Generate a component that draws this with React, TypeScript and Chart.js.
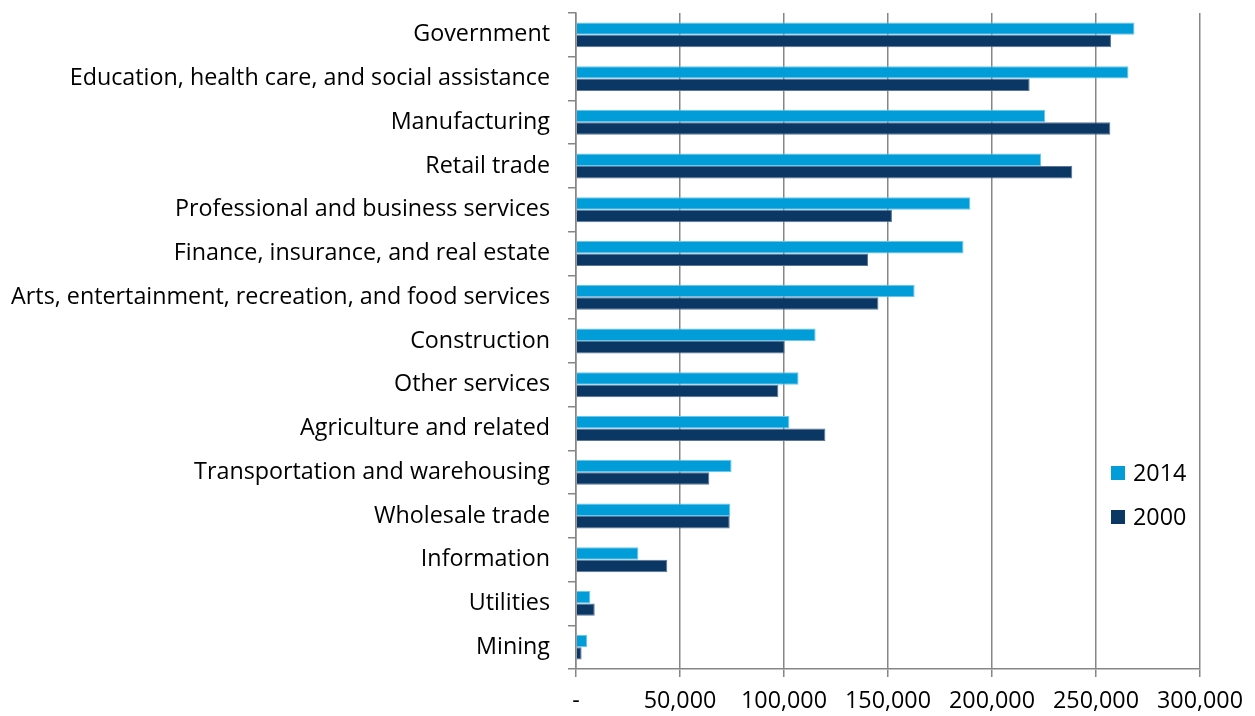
import React, { useEffect, useRef } from "react";
import { Chart, registerables } from "chart.js";

Chart.register(...registerables);

const categories = [
  "Government",
  "Education, health care, and social assistance",
  "Manufacturing",
  "Retail trade",
  "Professional and business services",
  "Finance, insurance, and real estate",
  "Arts, entertainment, recreation, and food services",
  "Construction",
  "Other services",
  "Agriculture and related",
  "Transportation and warehousing",
  "Wholesale trade",
  "Information",
  "Utilities",
  "Mining",
];

const values2014 = [268500, 265600, 225500, 223600, 189600, 186300, 162800, 115200, 107000, 102600, 74800, 74200, 30000, 6900, 5400];
const values2000 = [257200, 218100, 256900, 238600, 151900, 140400, 145400, 100300, 97300, 119900, 64100, 73900, 43900, 9000, 2700];

const seriesNames = ["2014", "2000"];
const xTickLabels = ["-", "50,000", "100,000", "150,000", "200,000", "250,000", "300,000"];

const FONT = "'Open Sans', 'Liberation Sans', sans-serif";
const FSIZE = 23.3;

const legendPlugin = {
  id: "customLegend",
  afterDraw(chart: any) {
    const ctx = chart.ctx;
    const area = chart.chartArea;
    const x = area.right - 89;
    const ys = [473, 517];
    ctx.save();
    chart.data.datasets.forEach((ds: any, i: number) => {
      const y = ys[i];
      ctx.fillStyle = ds.backgroundColor;
      ctx.fillRect(x, y - 7, 14, 14);
      ctx.fillStyle = "#000";
      ctx.font = `${FSIZE}px ${FONT}`;
      ctx.textBaseline = "middle";
      ctx.textAlign = "left";
      ctx.fillText(ds.label, x + 22, y + 1);
    });
    ctx.restore();
  },
};

export default function App() {
  const ref = useRef<HTMLCanvasElement | null>(null);
  useEffect(() => {
    if (!ref.current) return;
    const chart = new Chart(ref.current, {
      type: "bar",
      data: {
        labels: categories,
        datasets: [
          {
            label: seriesNames[0],
            data: values2014,
            backgroundColor: "#009dd9",
            borderColor: "#6cc6ea",
            borderWidth: 1,
            categoryPercentage: 0.57,
            barPercentage: 1,
          },
          {
            label: seriesNames[1],
            data: values2000,
            backgroundColor: "#0a3764",
            borderColor: "#5b7596",
            borderWidth: 1,
            categoryPercentage: 0.57,
            barPercentage: 1,
          },
        ],
      },
      options: {
        indexAxis: "y",
        animation: false,
        responsive: true,
        maintainAspectRatio: false,
        layout: { padding: { top: 13, right: 55, left: 0, bottom: 0 } },
        plugins: {
          legend: { display: false },
          tooltip: { enabled: false },
        },
        scales: {
          x: {
            min: 0,
            max: 300000,
            ticks: {
              stepSize: 50000,
              color: "#000",
              font: { family: FONT, size: FSIZE },
              padding: 10,
              maxRotation: 0,
              callback: (_v: any, i: number) => xTickLabels[i],
            },
            grid: {
              color: "#868686",
              lineWidth: 1.5,
              tickLength: 8,
              drawTicks: true,
            },
            border: { display: true, color: "#868686", width: 1.5 },
            afterFit: (s: any) => {
              s.height = 716 - 669;
              s.paddingLeft = 0;
              s.paddingRight = 0;
            },
          },
          y: {
            ticks: {
              color: "#000",
              font: { family: FONT, size: FSIZE },
              padding: 18,
              autoSkip: false,
            },
            grid: {
              drawOnChartArea: false,
              color: "#868686",
              lineWidth: 1.5,
              tickLength: 8,
              offset: true,
            },
            border: { display: true, color: "#868686", width: 1.5 },
            afterFit: (s: any) => {
              s.width = 576;
              s.paddingTop = 0;
              s.paddingBottom = 0;
            },
          },
        },
      },
      plugins: [legendPlugin],
    } as any);
    return () => chart.destroy();
  }, []);
  return (
    <div style={{ position: "absolute", left: 0, top: 0, width: 1255, height: 716, background: "#fff" }}>
      <canvas ref={ref} />
    </div>
  );
}
